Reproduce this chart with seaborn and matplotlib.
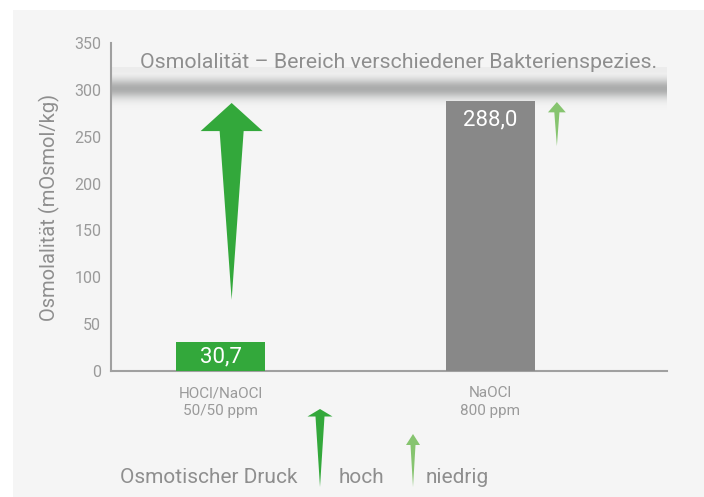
import numpy as np
import pandas as pd
import matplotlib
matplotlib.use("Agg")
import matplotlib.pyplot as plt
from matplotlib.patches import Polygon, Rectangle
from matplotlib.colors import LinearSegmentedColormap
import seaborn as sns

# data
categories = ["HOCl/NaOCl\n50/50 ppm", "NaOCl\n800 ppm"]
values = [30.7, 288.0]
value_labels = ["30,7", "288,0"]
bar_colors = ["#33a83b", "#888888"]
y_ticks = [0, 50, 100, 150, 200, 250, 300, 350]
band_range = [278, 323]          # osmolality range of bacteria
arrow_tips = [286, 287]          # arrows next to the bars
arrow_tails = [76, 240]
arrow_colors = ["#33a83b", "#86c46f"]

title_txt = "Osmolalität – Bereich verschiedener Bakterienspezies."
ylabel_txt = "Osmolalität (mOsmol/kg)"
legend_txt = ["Osmotischer Druck", "hoch", "niedrig"]

sns.set_style("white")
plt.rcParams["font.family"] = ["Roboto", "DejaVu Sans"]

TXT = "#8e8e8e"
AX = "#a0a0a0"
PANEL = "#f5f5f5"


def draw_arrow(ax, x, tip, tail, head_w, head_h, shaft_w, color):
    d = np.sign(tail - tip)
    base = tip + d * head_h
    pts = [(x, tip), (x + head_w / 2, base), (x + shaft_w / 2, base),
           (x, tail), (x - shaft_w / 2, base), (x - head_w / 2, base)]
    ax.add_patch(Polygon(pts, closed=True, facecolor=color, edgecolor="none",
                         clip_on=False, zorder=4))


fig = plt.figure(figsize=(7.04, 4.97), dpi=100)

# background panel + legend row, in pixel coordinates
bg = fig.add_axes([0, 0, 1, 1], zorder=-1)
bg.set_xlim(0, 704)
bg.set_ylim(497, 0)
bg.axis("off")
bg.add_patch(Rectangle((13, 10), 691, 487, facecolor=PANEL, edgecolor="none"))

ax = fig.add_axes([111 / 704, 126 / 497, 556 / 704, 328 / 497])
ax.set_facecolor("none")

df = pd.DataFrame({"cat": categories, "val": values})
sns.barplot(data=df, x="cat", y="val", hue="cat", palette=bar_colors,
            width=0.33, saturation=1, legend=False, ax=ax, zorder=3, linewidth=0)

xmin, xmax = -0.406, 1.654

# gray gradient band
yy = np.linspace(band_range[0], band_range[1], 200)
prof = np.exp(-((yy - 300.5) / 10) ** 2)
prof = np.where(yy > 317, np.maximum(prof, 0.12), prof)
cmap = LinearSegmentedColormap.from_list("band", [PANEL, "#abacac"])
ax.imshow(prof[:, None], extent=[xmin, xmax, band_range[0], band_range[1]],
          origin="lower", aspect="auto", cmap=cmap, vmin=0, vmax=1, zorder=1)

ax.set_xlim(xmin, xmax)
ax.set_ylim(0, 350)

for i, (v, lab) in enumerate(zip(values, value_labels)):
    ax.text(i, v - min(v / 2, 20), lab, ha="center", va="center",
            color="white", fontsize=16, zorder=5)

draw_arrow(ax, 0.041, arrow_tips[0], arrow_tails[0], 0.23, 30, 0.089, arrow_colors[0])
draw_arrow(ax, 1.246, arrow_tips[1], arrow_tails[1], 0.066, 11, 0.019, arrow_colors[1])

ax.text(-0.298, 329.5, title_txt, ha="left", va="center", color=TXT, fontsize=15.4)

ax.set_yticks(y_ticks)
ax.set_xlabel("")
ax.set_ylabel(ylabel_txt, color=TXT, fontsize=14.5, labelpad=10)
ax.tick_params(axis="y", direction="in", length=10, width=1.2, color=AX,
               labelcolor="#9a9a9a", labelsize=11.5, pad=7)
ax.tick_params(axis="x", length=0, labelcolor="#9a9a9a", labelsize=11, pad=11)
for t in ax.get_xticklabels():
    t.set_linespacing(1.3)
for s in ["top", "right"]:
    ax.spines[s].set_visible(False)
for s in ["left", "bottom"]:
    ax.spines[s].set_color(AX)
    ax.spines[s].set_linewidth(1.5)

# legend row at the bottom
bg.text(120.5, 483, legend_txt[0], color=TXT, fontsize=15, va="baseline")
bg.text(339, 483, legend_txt[1], color=TXT, fontsize=15, va="baseline")
bg.text(426, 483, legend_txt[2], color=TXT, fontsize=15, va="baseline")
draw_arrow(bg, 320, 409, 487, 25, 7.5, 9, arrow_colors[0])
draw_arrow(bg, 413, 434, 487, 14, 11, 5, arrow_colors[1])

fig.savefig("out.png", dpi=100, facecolor="white")
